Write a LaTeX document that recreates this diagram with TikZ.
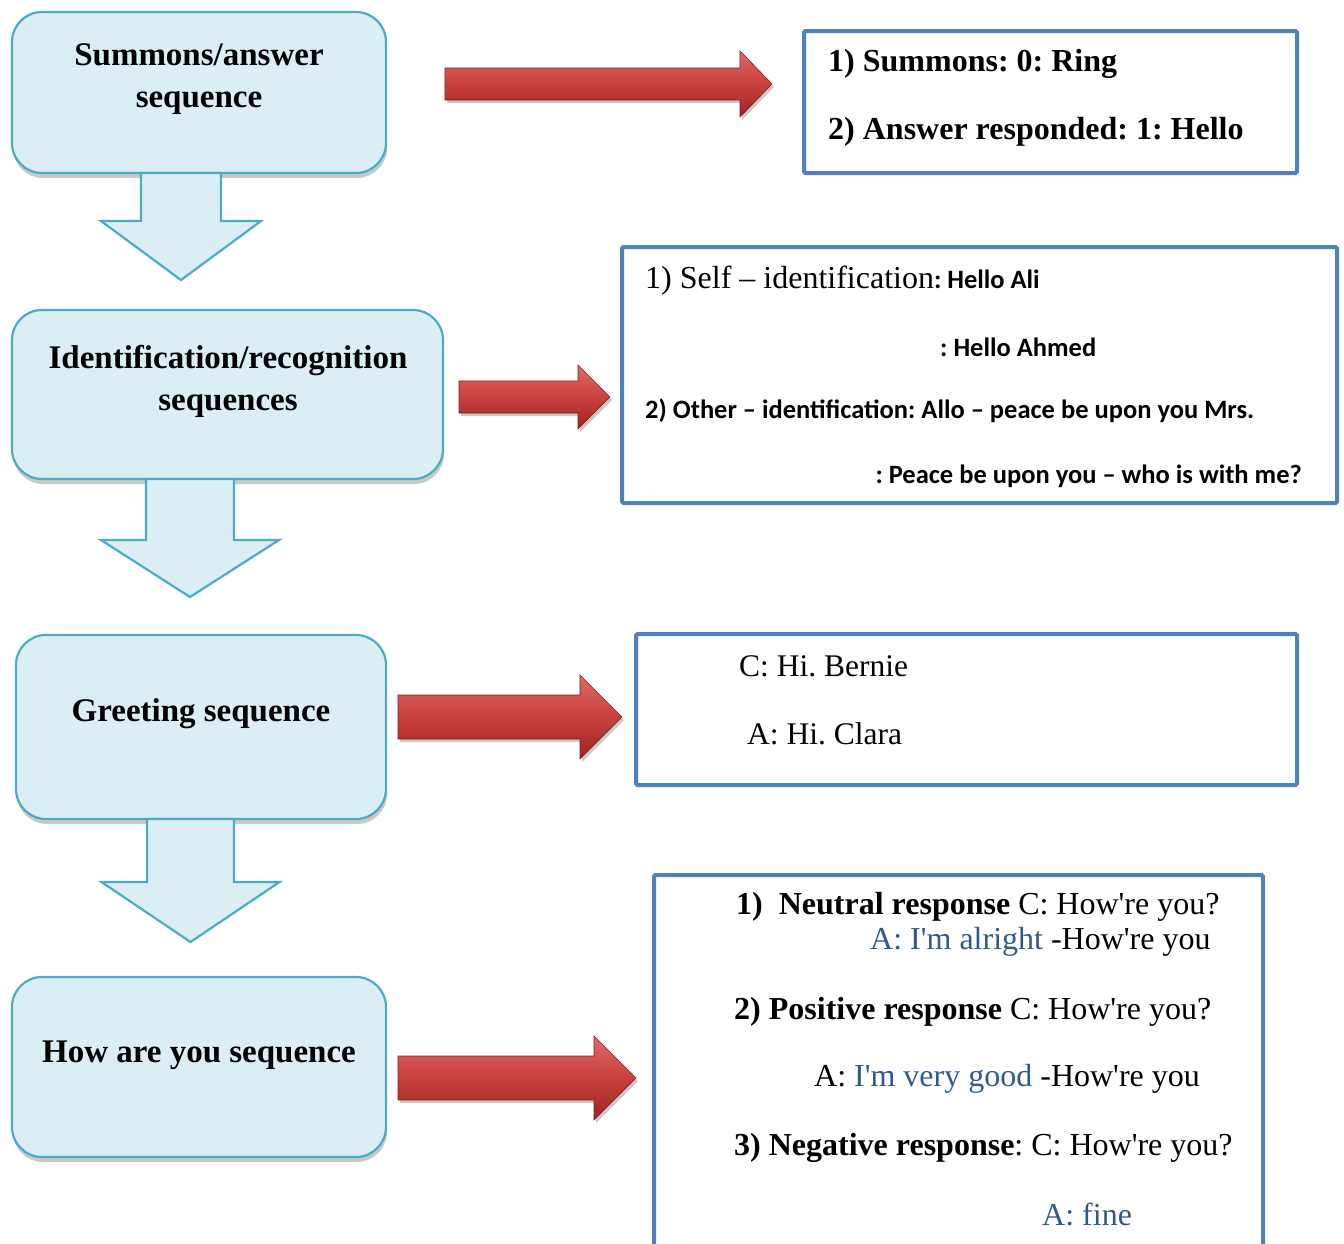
\documentclass[tikz,border=0pt]{standalone}
\usepackage{fontspec}
\setmainfont{Liberation Serif}
\newfontfamily\myrm{Liberation Serif}
\newfontfamily\carl{Carlito}
\usetikzlibrary{calc,shadows}
\frenchspacing
\definecolor{boxfill}{HTML}{DBEEF4}
\definecolor{boxline}{HTML}{4BACC6}
\definecolor{bluebox}{HTML}{4F81BD}
\definecolor{ansblue}{HTML}{2E5B8E}
\definecolor{redtop}{HTML}{E06A66}
\definecolor{redmid}{HTML}{C8403D}
\definecolor{redbot}{HTML}{9E2522}
\tikzset{
  seqbox/.style={draw=boxline, line width=2.2pt, fill=boxfill, rounded corners=30pt,
    drop shadow={shadow xshift=1pt, shadow yshift=-5pt, opacity=0.3, fill=black!70}},
  downarr/.style={draw=boxline, line width=2.2pt, fill=boxfill, line join=miter},
  redarr/.style={top color=redtop, bottom color=redbot, middle color=redmid,
    draw=redbot!80!black, line width=0.6pt,
    drop shadow={shadow xshift=2pt, shadow yshift=-3pt, opacity=0.3, fill=black!70}},
  infobox/.style={draw=bluebox, line width=4pt, fill=white, rounded corners=1.5pt},
  seqtext/.style={font=\myrm\frenchspacing\fontsize{33}{42}\selectfont\bfseries, align=center, inner sep=0pt},
  ttext/.style={font=\myrm\frenchspacing\fontsize{32}{36}\selectfont, inner sep=0pt, anchor=west},
  ctext/.style={font=\carl\frenchspacing\fontsize{26.5}{30}\selectfont\bfseries, inner sep=0pt, anchor=west},
}
\newcommand\myredarrow[5]{%
  \path[redarr] ($(#1)+(0,-#3)$) -- ($(#2)+(-#5,-#3)$) -- ($(#2)+(-#5,-#4)$) -- (#2)
    -- ($(#2)+(-#5,#4)$) -- ($(#2)+(-#5,#3)$) -- ($(#1)+(0,#3)$) -- cycle;}
\newcommand\mydownarrow[5]{%
  \draw[downarr] ($(#1)+(-#3,0)$) -- ($(#2)+(-#3,-#5)$) -- ($(#2)+(-#4,-#5)$) -- (#2)
    -- ($(#2)+(#4,-#5)$) -- ($(#2)+(#3,-#5)$) -- ($(#1)+(#3,0)$) -- cycle;}
\begin{document}
\begin{tikzpicture}[x=1pt,y=-1pt]
\useasboundingbox (0,0) rectangle (1344,1243);
\clip (0,0) rectangle (1344,1243);
% left sequence boxes
\node[seqbox, minimum width=374pt, minimum height=161pt] (s1) at (199,92.5) {};
\node[seqbox, minimum width=431pt, minimum height=169pt] (s2) at (227.5,394.5) {};
\node[seqbox, minimum width=370pt, minimum height=184pt] (s3) at (201,727) {};
\node[seqbox, minimum width=374pt, minimum height=180pt] (s4) at (199,1067) {};
\node[seqtext] (t1) at (199,79) {Summons/answer\\sequence};
\node[seqtext] (t2) at (228,381) {Identification/recognition\\sequences};
\node[seqtext] (t3) at (201,714) {Greeting sequence};
\node[seqtext] (t4) at (199,1055) {How are you sequence};
% down arrows
\coordinate (d1a) at (181,173); \coordinate (d1b) at (181,280);
\coordinate (d2a) at (190,479); \coordinate (d2b) at (190,597);
\coordinate (d3a) at (190.5,819); \coordinate (d3b) at (190.5,942);
\mydownarrow{d1a}{d1b}{40}{80}{59}
\mydownarrow{d2a}{d2b}{44}{89}{57}
\mydownarrow{d3a}{d3b}{43.5}{89}{60}
% info boxes
\node[infobox, minimum width=493pt, minimum height=142pt] (b1) at (1050.5,102) {};
\node[infobox, minimum width=715pt, minimum height=256pt] (b2) at (979.5,375) {};
\node[infobox, minimum width=661pt, minimum height=151pt] (b3) at (966.5,709.5) {};
\node[infobox, minimum width=609pt, minimum height=390pt] (b4) at (958.5,1070) {};
% red arrows
\coordinate (r1a) at (445,84);  \coordinate (r1b) at (772,84);
\coordinate (r2a) at (459,397); \coordinate (r2b) at (610,397);
\coordinate (r3a) at (398,717); \coordinate (r3b) at (622,717);
\coordinate (r4a) at (398,1078); \coordinate (r4b) at (636,1078);
\myredarrow{r1a}{r1b}{16}{33}{32}
\myredarrow{r2a}{r2b}{16}{32}{32}
\myredarrow{r3a}{r3b}{22}{42}{42}
\myredarrow{r4a}{r4b}{22}{42}{42}
% box 1 text
\node[ttext, font=\myrm\frenchspacing\fontsize{32}{36}\selectfont\bfseries] (b1l1) at (828,64) {1) Summons: 0: Ring};
\node[ttext, font=\myrm\frenchspacing\fontsize{32}{36}\selectfont\bfseries] (b1l2) at (828,132) {2) Answer responded: 1: Hello};
% box 2 text
\node[ttext] (b2l1) at (645,281) {1) Self – identification{\carl\fontsize{26.5}{30}\selectfont\bfseries: Hello Ali}};
\node[ctext] (b2l2) at (940,347) {: Hello Ahmed};
\node[ctext] (b2l3) at (645,411) {2) Other – identification: Allo – peace be upon you Mrs.};
\node[ctext, anchor=east] (b2l4) at (1302,476) {: Peace be upon you – who is with me?};
% box 3 text
\node[ttext, font=\myrm\frenchspacing\fontsize{31.5}{34}\selectfont] (b3l1) at (739,666) {C: Hi. Bernie};
\node[ttext, font=\myrm\frenchspacing\fontsize{31.5}{34}\selectfont] (b3l2) at (747,734) {A: Hi. Clara};
% box 4 text
\node[ttext] (b4l1) at (736,907) {\textbf{1)\ \ Neutral response} C: How're you?};
\node[ttext] (b4l2) at (870,942) {\textcolor{ansblue}{A: I'm alright} -How're you};
\node[ttext] (b4l3) at (734,1012) {\textbf{2) Positive response} C: How're you?};
\node[ttext] (b4l4) at (814,1079) {A: \textcolor{ansblue}{I'm very good} -How're you};
\node[ttext] (b4l5) at (734,1148) {\textbf{3) Negative response}: C: How're you?};
\node[ttext, text=ansblue] (b4l6) at (1042,1214) {A: fine};
\end{tikzpicture}
\end{document}
